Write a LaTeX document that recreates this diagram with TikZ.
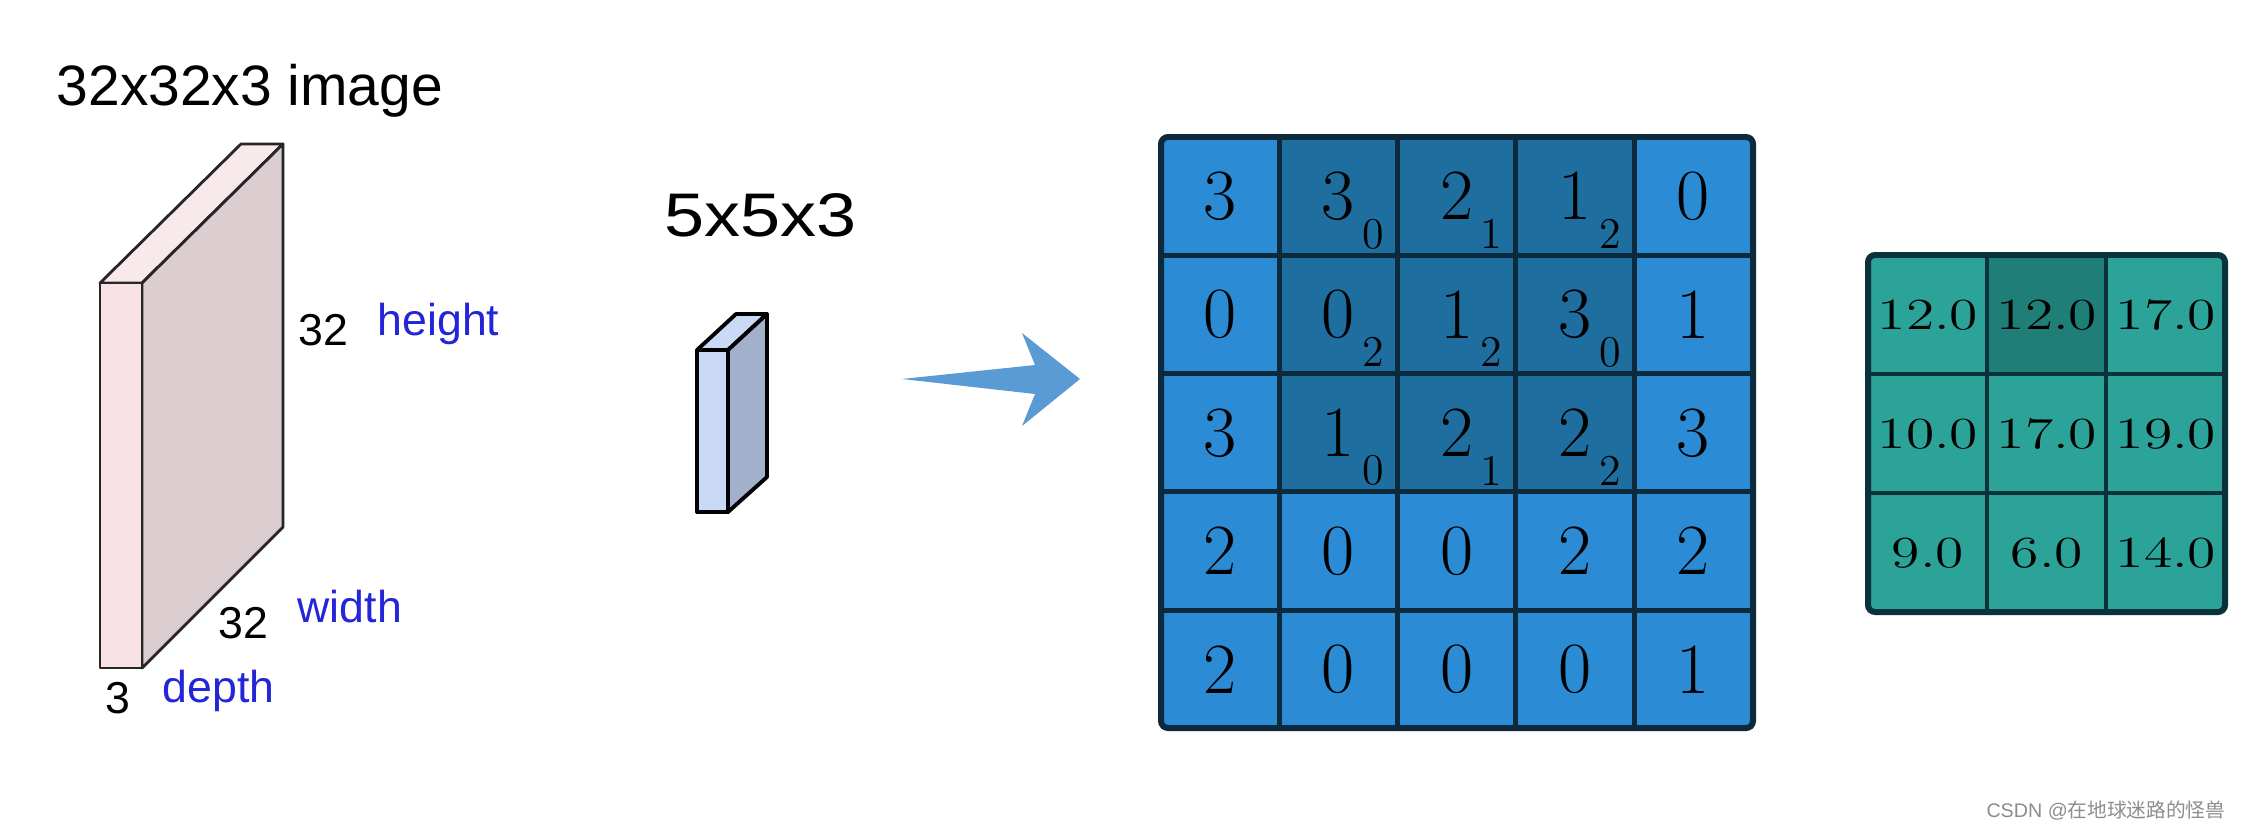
\documentclass[tikz,border=0pt]{standalone}
\usepackage{fontspec}
\usepackage{graphicx}
\setsansfont{Liberation Sans}
\newfontfamily\cjkfont{Noto Sans CJK SC}
\definecolor{labelblue}{RGB}{36,36,216}
\definecolor{frontpink}{RGB}{248,225,228}
\definecolor{toppink}{RGB}{248,233,235}
\definecolor{sidepink}{RGB}{220,205,208}
\definecolor{kfront}{RGB}{201,217,246}
\definecolor{kside}{RGB}{163,176,204}
\definecolor{arrowblue}{RGB}{91,155,213}
\definecolor{llight}{RGB}{43,139,213}
\definecolor{ldark}{RGB}{31,110,160}
\definecolor{lline}{RGB}{12,42,60}
\definecolor{rlight}{RGB}{44,163,152}
\definecolor{rdark}{RGB}{31,127,120}
\definecolor{rline}{RGB}{11,50,58}
\definecolor{wmgray}{RGB}{140,140,140}
\begin{document}
\begin{tikzpicture}[x=0.01cm,y=-0.01cm,
  lbl/.style={font=\sffamily\fontsize{12.7}{14}\selectfont, inner sep=0, anchor=base west},
  blu/.style={lbl, text=labelblue},
  gd/.style={font=\fontsize{20.5}{22}\selectfont, inner sep=0},
  gs/.style={font=\fontsize{12.5}{13}\selectfont, inner sep=0},
  rd/.style={font=\fontsize{12.6}{13}\selectfont, inner sep=0},
  bigedge/.style={draw=black!85, line width=0.8pt, line join=round},
  smalledge/.style={draw=black, line width=1.1pt, line join=round}]
\useasboundingbox (0,0) rectangle (2243,830);

% ---- input volume ----
\node[lbl, font=\sffamily\fontsize{16.2}{18}\selectfont] (title) at (56,105) {32x32x3 image};
\filldraw[bigedge, fill=toppink] (100,283) -- (241,144) -- (283,144) -- (142,283) -- cycle;
\filldraw[bigedge, fill=sidepink] (142,283) -- (283,144) -- (283,527) -- (142,668) -- cycle;
\filldraw[bigedge, fill=frontpink] (100,283) rectangle (142,668);
\node[lbl] (h32) at (298,345) {32};
\node[blu] (hlab) at (377,335) {height};
\node[lbl] (w32) at (218,638) {32};
\node[blu] (wlab) at (297,622) {width};
\node[lbl] (d3) at (105,713) {3};
\node[blu] (dlab) at (162,702) {depth};

% ---- filter ----
\node[lbl, font=\sffamily\fontsize{17.5}{19}\selectfont] (ktitle) at (664,236) {\scalebox{1.17}[1]{5x5x3}};
\filldraw[smalledge, fill=kfront] (697,350) -- (736,314) -- (767,314) -- (728,350) -- cycle;
\filldraw[smalledge, fill=kside] (728,350) -- (767,314) -- (767,477) -- (728,512) -- cycle;
\filldraw[smalledge, fill=kfront] (697,350) rectangle (728,512);

% ---- arrow ----
\fill[arrowblue] (902,379) -- (1035,365) -- (1022,333) -- (1080,379) -- (1022,426) -- (1035,394) -- cycle;

% ---- input grid ----
\foreach \v/\s [count=\i from 0] in {3/,3/0,2/1,1/2,0/,0/,0/2,1/2,3/0,1/,3/,1/0,2/1,2/2,3/,2/,0/,0/,2/,2/,2/,0/,0/,0/,1/}{
  \pgfmathtruncatemacro\r{\i/5}
  \pgfmathtruncatemacro\c{\i-5*\r}
  \pgfmathtruncatemacro\dk{(\r<3)&&(\c>0)&&(\c<4)}
  \ifnum\dk=1 \def\fc{ldark}\else\def\fc{llight}\fi
  \fill[\fc] (1161+118.3*\c,137+118.3*\r) rectangle ++(118.3,118.3);
  \node[gd] (L\r\c) at (1161+118.3*\c+59.15,137+118.3*\r+59.15) {\v};
  \ifx\s\empty\else
    \node[gs] (S\r\c) at (1161+118.3*\c+94,137+118.3*\r+97) {\s};
  \fi
}
\foreach \k in {1,2,3,4}{
  \draw[lline, line width=1.4pt] (1161+118.3*\k,137) -- (1161+118.3*\k,728);
  \draw[lline, line width=1.4pt] (1161,137+118.3*\k) -- (1753,137+118.3*\k);
}
\draw[lline, line width=1.7pt, rounded corners=2pt] (1161,137) rectangle (1753,728);

% ---- output grid ----
\foreach \v [count=\i from 0] in {12.0,12.0,17.0,10.0,17.0,19.0,9.0,6.0,14.0}{
  \pgfmathtruncatemacro\r{\i/3}
  \pgfmathtruncatemacro\c{\i-3*\r}
  \pgfmathtruncatemacro\dk{(\r==0)&&(\c==1)}
  \ifnum\dk=1 \def\fc{rdark}\else\def\fc{rlight}\fi
  \fill[\fc] (1868+119*\c,255+119*\r) rectangle ++(119,119);
  \node[rd] (R\r\c) at (1868+119*\c+60,255+119*\r+60) {\scalebox{1.3}[1]{\v}};
}
\foreach \k in {1,2}{
  \draw[rline, line width=1.4pt] (1868+119*\k,255) -- (1868+119*\k,612);
  \draw[rline, line width=1.4pt] (1868,255+119*\k) -- (2225,255+119*\k);
}
\draw[rline, line width=1.7pt, rounded corners=2pt] (1868,255) rectangle (2225,612);

% ---- watermark ----
\node[anchor=base east, inner sep=0, text=wmgray, font=\sffamily\fontsize{5.6}{6}\selectfont] (wm) at (2226,817) {CSDN @{\cjkfont 在地球迷路的怪兽}};
\end{tikzpicture}
\end{document}
